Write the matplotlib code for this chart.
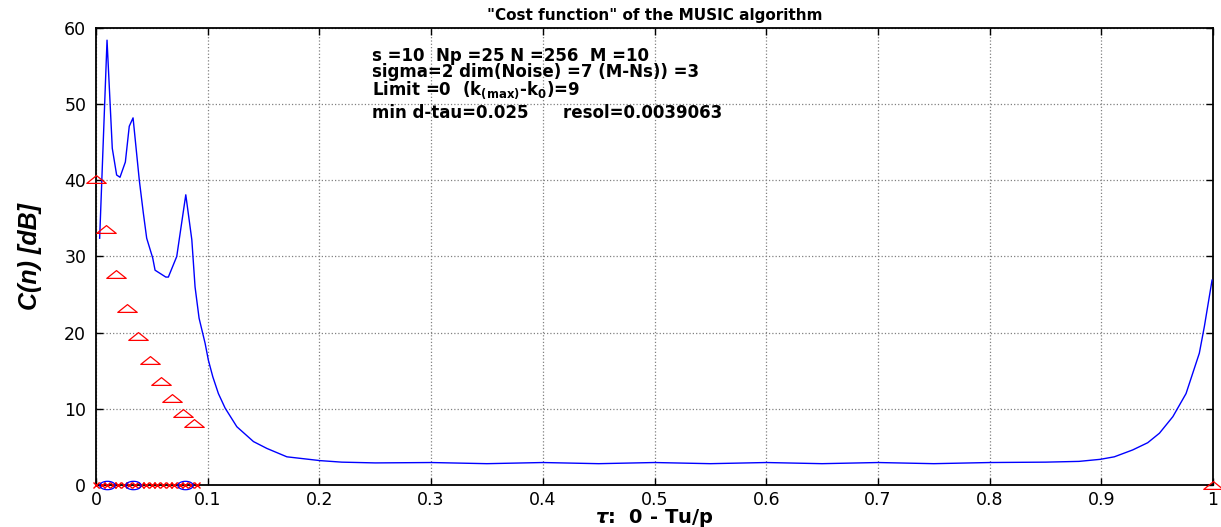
import numpy as np
import matplotlib
matplotlib.use("Agg")
import matplotlib.pyplot as plt
from matplotlib.path import Path

plt.rcParams['font.family'] = ['DejaVu Sans']
plt.rcParams['mathtext.fontset'] = 'custom'
plt.rcParams['mathtext.rm'] = 'DejaVu Sans:bold'
plt.rcParams['mathtext.bf'] = 'DejaVu Sans:bold'
plt.rcParams['mathtext.it'] = 'DejaVu Sans:italic:bold'

# ---- data ----
tau = [0.0033, 0.0099, 0.0146, 0.0185, 0.0215, 0.0263, 0.0298, 0.0332, 0.0388,
       0.0424, 0.0454, 0.0508, 0.0529, 0.0625, 0.0648, 0.0723, 0.0804, 0.0858,
       0.0887, 0.0923, 0.0977, 0.1006, 0.1046, 0.1096, 0.1156, 0.1261, 0.1410,
       0.1530, 0.1709, 0.2007, 0.22, 0.25, 0.30, 0.35, 0.40, 0.45, 0.50, 0.55,
       0.60, 0.65, 0.70, 0.75, 0.80, 0.85, 0.88, 0.899, 0.9116, 0.928, 0.9415,
       0.952, 0.964, 0.9758, 0.9877, 0.9922, 0.9991]
cost = [32.4, 58.4, 44.2, 40.7, 40.4, 42.4, 47.1, 48.2, 40.0,
        35.7, 32.4, 29.8, 28.2, 27.3, 27.3, 30.0, 38.1, 32.2,
        26.0, 21.9, 18.6, 16.4, 14.2, 12.0, 10.1, 7.65, 5.7,
        4.8, 3.7, 3.2, 3.0, 2.9, 2.95, 2.8, 2.95, 2.8, 2.95, 2.8,
        2.95, 2.8, 2.95, 2.8, 2.95, 3.0, 3.1, 3.37, 3.7, 4.6, 5.55,
        6.8, 8.97, 12.0, 17.3, 20.8, 26.9]

tri_x = [0.0, 0.0088, 0.0179, 0.028, 0.038, 0.048, 0.058, 0.068, 0.078, 0.088, 1.0]
tri_y = [40.2, 33.6, 27.7, 23.3, 19.5, 16.4, 13.7, 11.4, 9.5, 8.1, 0.0]

true_tau = [0.0096, 0.0334, 0.080]
true_y = [0, 0, 0]

est_x = [0.0, 0.005, 0.010, 0.015, 0.020, 0.025, 0.030, 0.035, 0.040, 0.045,
         0.050, 0.055, 0.060, 0.065, 0.070, 0.075, 0.080, 0.085, 0.090]
est_y = [0] * len(est_x)

xticks = [0, 0.1, 0.2, 0.3, 0.4, 0.5, 0.6, 0.7, 0.8, 0.9, 1]
xticklabels = ['0', '0.1', '0.2', '0.3', '0.4', '0.5', '0.6', '0.7', '0.8', '0.9', '1']
yticks = [0, 10, 20, 30, 40, 50, 60]

info_lines = [
    "s =10  Np =25 N =256  M =10",
    "sigma=2 dim(Noise) =7 (M-Ns)) =3",
    r"Limit =0  (k$_{\mathrm{(max)}}$-k$_{\mathrm{0}}$)=9",
    "min d-tau=0.025      resol=0.0039063",
]
text_y = [55.7, 53.5, 51.15, 48.2]

# ---- figure ----
fig = plt.figure(figsize=(12.21, 5.27), dpi=100)
ax = fig.add_axes([0.0786, 0.0797, 0.9149, 0.8672])

# custom wide markers (stretched look)
tri_path = Path([(-1.25, -0.5), (0, 0.5), (1.25, -0.5), (-1.25, -0.5)],
                [Path.MOVETO, Path.LINETO, Path.LINETO, Path.CLOSEPOLY])
t = np.linspace(0, 2 * np.pi, 41)
ell_path = Path(np.column_stack([np.cos(t), 0.55 * np.sin(t)]))

ax.plot(tau, cost, color='#0000ff', lw=1.0, zorder=3)
ax.plot(est_x, est_y, linestyle='none', marker='x', color='red', ms=4, mew=1.0,
        clip_on=False, zorder=4)
ax.plot(true_tau, true_y, linestyle='none', marker=ell_path, ms=11, mfc='none',
        mec='#0000ff', mew=0.9, clip_on=False, zorder=5)
ax.plot(tri_x, tri_y, linestyle='none', marker=tri_path, ms=14, mfc='none',
        mec='red', mew=0.9, clip_on=False, zorder=5)

ax.set_xlim(0, 1)
ax.set_ylim(0, 60)
ax.set_xticks(xticks)
ax.set_xticklabels(xticklabels)
ax.set_yticks(yticks)
ax.grid(True, color='#808080', linestyle=':', linewidth=0.9)
ax.tick_params(direction='in', top=True, right=True, length=5, width=1,
               labelsize=12.5)
ax.tick_params(axis='x', pad=4)
ax.tick_params(axis='y', pad=7)
for s in ax.spines.values():
    s.set_linewidth(1.3)
    s.set_color('black')

ax.set_title('"Cost function" of the MUSIC algorithm', fontsize=11,
             fontweight='bold', pad=6)
ax.set_xlabel(r'$\tau$:  0 - Tu/p', fontsize=14, fontweight='bold', labelpad=-1)
ax.set_ylabel('C(n) [dB]', fontsize=18, fontweight='bold', fontstyle='italic',
              family='Liberation Sans', labelpad=16)

for yy, line in zip(text_y, info_lines):
    ax.text(0.247, yy, line, fontsize=12, fontweight='bold', va='baseline',
            ha='left', zorder=6)

fig.savefig('out.png', dpi=100)
